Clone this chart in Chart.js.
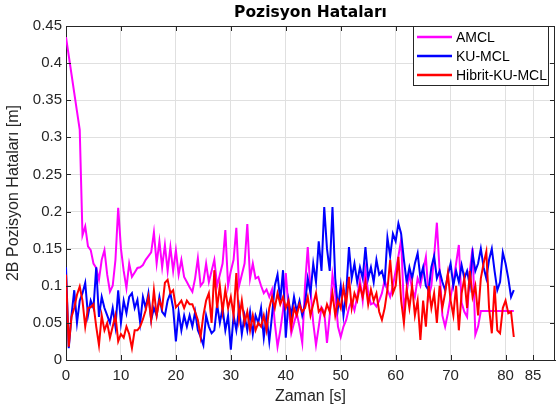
<!DOCTYPE html>
<html>
<head>
<meta charset="utf-8">
<script src="https://cdn.jsdelivr.net/npm/chart.js@4/dist/chart.umd.min.js"></script>
<style>
  html, body { margin: 0; padding: 0; background: #fff; }
  #kutu { width: 556px; height: 410px; }
</style>
</head>
<body>
<div id="kutu"><canvas id="hataGrafik" width="556" height="410"></canvas></div>
<script>
// zaman adimi 0.5 s, 0 - 81.5 s
const adim = 0.5;

const amcl = [
  0.435, 0.41, 0.385, 0.36, 0.335, 0.31, 0.168, 0.18, 0.153, 0.148,
  0.13, 0.124, 0.108, 0.135, 0.148, 0.115, 0.092, 0.10, 0.135, 0.205,
  0.15, 0.12, 0.097, 0.13, 0.112, 0.118, 0.124, 0.125, 0.128, 0.135,
  0.14, 0.145, 0.172, 0.13, 0.16, 0.125, 0.155, 0.12, 0.152, 0.12,
  0.148, 0.115, 0.135, 0.112, 0.105, 0.098, 0.092, 0.11, 0.137, 0.10,
  0.105, 0.13, 0.105, 0.12, 0.135, 0.10, 0.115, 0.13, 0.175, 0.10,
  0.12, 0.135, 0.178, 0.10, 0.115, 0.13, 0.183, 0.11, 0.13, 0.11,
  0.112, 0.10, 0.09, 0.095, 0.085, 0.095, 0.05, 0.018, 0.04, 0.067,
  0.117, 0.07, 0.036, 0.05, 0.063, 0.045, 0.023, 0.10, 0.152, 0.094,
  0.05, 0.02, 0.045, 0.071, 0.065, 0.023, 0.06, 0.115, 0.09, 0.045,
  0.031, 0.045, 0.054, 0.07, 0.08, 0.067, 0.085, 0.108, 0.08, 0.121,
  0.09, 0.075, 0.077, 0.072, 0.08, 0.09, 0.108, 0.095, 0.085, 0.10,
  0.12, 0.14, 0.162, 0.07, 0.09, 0.117, 0.095, 0.085, 0.11, 0.10,
  0.12, 0.139, 0.085, 0.10, 0.14, 0.185, 0.12, 0.06, 0.045, 0.063,
  0.085, 0.104, 0.13, 0.155, 0.077, 0.065, 0.058, 0.12, 0.151, 0.034,
  0.045, 0.066, 0.066, 0.066, 0.066, 0.066, 0.066, 0.066, 0.066, 0.066,
  0.066, 0.066, 0.066, 0.066
];

const kuMcl = [
  0.125, 0.016, 0.06, 0.094, 0.05, 0.08, 0.09, 0.104, 0.06, 0.08,
  0.07, 0.125, 0.058, 0.085, 0.07, 0.06, 0.05, 0.07, 0.045, 0.094,
  0.05, 0.08, 0.063, 0.085, 0.09, 0.07, 0.081, 0.05, 0.085, 0.07,
  0.09, 0.054, 0.07, 0.06, 0.085, 0.065, 0.06, 0.08, 0.09, 0.07,
  0.025, 0.065, 0.04, 0.06, 0.045, 0.06, 0.045, 0.065, 0.04, 0.031,
  0.02, 0.06, 0.045, 0.036, 0.04, 0.075, 0.05, 0.07, 0.04, 0.06,
  0.014, 0.06, 0.04, 0.07, 0.035, 0.06, 0.04, 0.065, 0.035, 0.06,
  0.05, 0.07, 0.03, 0.06, 0.025, 0.06, 0.10, 0.115, 0.08, 0.121,
  0.03, 0.08, 0.06, 0.085, 0.065, 0.08, 0.06, 0.075, 0.11, 0.09,
  0.13, 0.105, 0.16, 0.12, 0.206, 0.15, 0.12, 0.206, 0.11, 0.07,
  0.10, 0.06, 0.09, 0.152, 0.11, 0.13, 0.105, 0.125, 0.11, 0.152,
  0.11, 0.125, 0.105, 0.135, 0.115, 0.12, 0.105, 0.165, 0.14, 0.17,
  0.16, 0.184, 0.17, 0.135, 0.105, 0.125, 0.11, 0.13, 0.144, 0.11,
  0.125, 0.10, 0.094, 0.125, 0.14, 0.11, 0.12, 0.105, 0.094, 0.115,
  0.13, 0.10, 0.12, 0.105, 0.128, 0.11, 0.12, 0.10, 0.144, 0.12,
  0.13, 0.15, 0.125, 0.11, 0.135, 0.15, 0.12, 0.094, 0.105, 0.145,
  0.13, 0.11, 0.085, 0.094
];

const hibritKuMcl = [
  0.115, 0.018, 0.058, 0.07, 0.088, 0.099, 0.08, 0.045, 0.07, 0.071,
  0.075, 0.045, 0.02, 0.06, 0.04, 0.05, 0.03, 0.045, 0.06, 0.025,
  0.035, 0.03, 0.045, 0.035, 0.016, 0.04, 0.04, 0.045, 0.055, 0.067,
  0.085, 0.054, 0.094, 0.06, 0.08, 0.07, 0.104, 0.108, 0.09, 0.094,
  0.071, 0.075, 0.08, 0.07, 0.08, 0.075, 0.075, 0.065, 0.054, 0.031,
  0.06, 0.08, 0.09, 0.05, 0.121, 0.07, 0.10, 0.065, 0.095, 0.07,
  0.085, 0.06, 0.117, 0.055, 0.08, 0.05, 0.065, 0.04, 0.06, 0.04,
  0.05, 0.045, 0.06, 0.04, 0.07, 0.085, 0.07, 0.09, 0.075, 0.085,
  0.07, 0.08, 0.045, 0.07, 0.06, 0.075, 0.065, 0.07, 0.085, 0.06,
  0.075, 0.09, 0.065, 0.07, 0.06, 0.075, 0.065, 0.09, 0.06, 0.08,
  0.07, 0.098, 0.075, 0.112, 0.07, 0.09, 0.08, 0.10, 0.085, 0.105,
  0.075, 0.095, 0.08, 0.09, 0.065, 0.054, 0.07, 0.095, 0.135, 0.09,
  0.10, 0.139, 0.08, 0.05, 0.095, 0.07, 0.10, 0.06, 0.08, 0.027,
  0.08, 0.045, 0.10, 0.07, 0.09, 0.05, 0.10, 0.07, 0.09, 0.117,
  0.08, 0.06, 0.10, 0.04, 0.09, 0.11, 0.07, 0.12, 0.085, 0.10,
  0.06, 0.11, 0.13, 0.146, 0.07, 0.036, 0.10, 0.04, 0.036, 0.07,
  0.08, 0.063, 0.065, 0.031
];

const seriAdlari = ['AMCL', 'KU-MCL', 'Hibrit-KU-MCL'];
const renkler = ['#ff00ff', '#0000ff', '#ff0000'];
const xEtiketleri = [0, 10, 20, 30, 40, 50, 60, 70, 80, 85];
const yEtiketleri = [0, 0.05, 0.1, 0.15, 0.2, 0.25, 0.3, 0.35, 0.4, 0.45];

const eksenRengi = '#262626';
const yazi = '"Liberation Sans", Arial, Helvetica, sans-serif';

function noktalar(dizi) {
    return dizi.map((v, i) => ({ x: i * adim, y: v }));
}

// MATLAB tarzi kutu: ust/sag kenar, ice dogru tik, baslik ve lejant
const cerceve = {
    id: 'cerceve',
    afterDraw(chart) {
        const ctx = chart.ctx;
        const a = chart.chartArea;
        const x = chart.scales.x;
        const y = chart.scales.y;
        ctx.save();
        ctx.strokeStyle = eksenRengi;
        ctx.lineWidth = 1;
        ctx.beginPath();
        ctx.moveTo(a.left, a.top + 0.5);
        ctx.lineTo(a.right, a.top + 0.5);
        ctx.moveTo(a.right - 0.5, a.top);
        ctx.lineTo(a.right - 0.5, a.bottom);
        for (let i = 0; i < xEtiketleri.length; i++) {
            let px = Math.round(x.getPixelForValue(xEtiketleri[i])) + 0.5;
            ctx.moveTo(px, a.bottom);
            ctx.lineTo(px, a.bottom - 5);
            ctx.moveTo(px, a.top);
            ctx.lineTo(px, a.top + 5);
        }
        for (let i = 0; i < yEtiketleri.length; i++) {
            let py = Math.round(y.getPixelForValue(yEtiketleri[i])) + 0.5;
            ctx.moveTo(a.left, py);
            ctx.lineTo(a.left + 5, py);
            ctx.moveTo(a.right, py);
            ctx.lineTo(a.right - 5, py);
        }
        ctx.stroke();

        // baslik
        ctx.fillStyle = '#000';
        ctx.font = 'bold 15.5px "DejaVu Sans", sans-serif';
        ctx.textAlign = 'center';
        ctx.textBaseline = 'middle';
        ctx.fillText('Pozisyon Hataları', (a.left + a.right) / 2, 12.5);

        // lejant
        const lx = 413, ly = 26, lw = 136, lh = 60;
        ctx.fillStyle = '#fff';
        ctx.fillRect(lx, ly, lw, lh);
        ctx.strokeStyle = eksenRengi;
        ctx.strokeRect(lx + 0.5, ly + 0.5, lw - 1, lh - 1);
        ctx.font = '14px ' + yazi;
        ctx.textAlign = 'left';
        for (let i = 0; i < seriAdlari.length; i++) {
            let sy = ly + 11 + i * 19;
            ctx.strokeStyle = renkler[i];
            ctx.lineWidth = 2.5;
            ctx.beginPath();
            ctx.moveTo(417, sy);
            ctx.lineTo(452, sy);
            ctx.stroke();
            ctx.fillStyle = '#000';
            ctx.fillText(seriAdlari[i], 456, sy + 1);
        }
        ctx.restore();
    }
};

new Chart(document.getElementById('hataGrafik'), {
    type: 'line',
    data: {
        datasets: [{
            label: seriAdlari[0],
            data: noktalar(amcl),
            borderColor: renkler[0],
            order: 3
        }, {
            label: seriAdlari[1],
            data: noktalar(kuMcl),
            borderColor: renkler[1],
            order: 2
        }, {
            label: seriAdlari[2],
            data: noktalar(hibritKuMcl),
            borderColor: renkler[2],
            order: 1
        }]
    },
    options: {
        responsive: false,
        animation: false,
        devicePixelRatio: 1,
        layout: {
            padding: { top: 26, right: 1, left: 0, bottom: 0 }
        },
        elements: {
            point: { radius: 0 },
            line: { borderWidth: 2, tension: 0 }
        },
        plugins: {
            legend: { display: false },
            tooltip: { enabled: false },
            title: { display: false }
        },
        scales: {
            x: {
                type: 'linear',
                min: 0,
                max: 89,
                afterBuildTicks: function (scale) {
                    scale.ticks = xEtiketleri.map(v => ({ value: v }));
                },
                afterFit: function (scale) {
                    scale.height = 50;
                },
                grid: {
                    color: '#e0e0e0',
                    drawTicks: false
                },
                border: { display: true, color: eksenRengi, width: 1 },
                ticks: {
                    padding: 7,
                    color: eksenRengi,
                    font: { size: 15, family: yazi },
                    maxRotation: 0,
                    autoSkip: false
                },
                title: {
                    display: true,
                    text: 'Zaman [s]',
                    color: eksenRengi,
                    font: { size: 16, family: yazi },
                    padding: { top: 0, bottom: 3.4 }
                }
            },
            y: {
                min: 0,
                max: 0.45,
                afterBuildTicks: function (scale) {
                    scale.ticks = yEtiketleri.map(v => ({ value: v }));
                },
                afterFit: function (scale) {
                    scale.width = 66;
                },
                grid: {
                    color: '#e0e0e0',
                    drawTicks: false
                },
                border: { display: true, color: eksenRengi, width: 1 },
                ticks: {
                    padding: 4,
                    color: eksenRengi,
                    font: { size: 15, family: yazi },
                    callback: function (v) {
                        return String(+v.toFixed(2));
                    }
                },
                title: {
                    display: true,
                    text: '2B Pozisyon Hataları [m]',
                    color: eksenRengi,
                    font: { size: 16, family: yazi },
                    padding: { top: 4.4, bottom: 0 }
                }
            }
        }
    },
    plugins: [cerceve]
});
</script>
</body>
</html>
